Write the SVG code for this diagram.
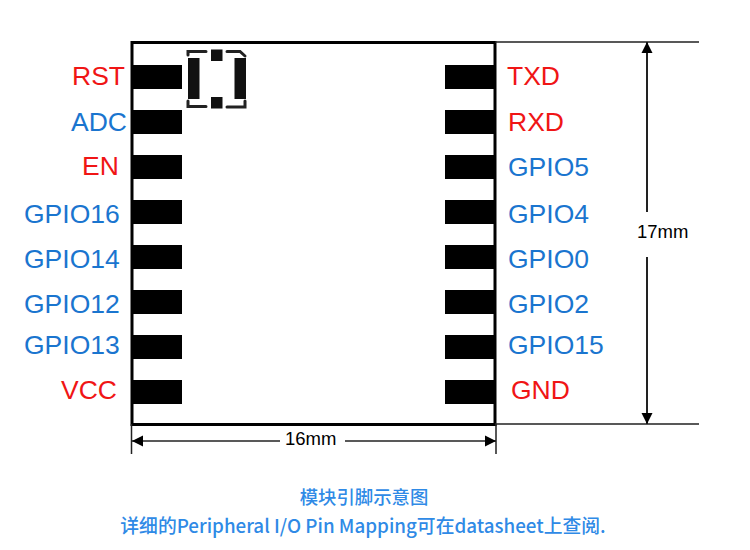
<svg xmlns="http://www.w3.org/2000/svg" width="750" height="550" viewBox="0 0 750 550">
<style>
text{font-family:"Liberation Sans",Arial,sans-serif;font-size:26.500px}
.r{fill:#f01515}.b{fill:#1a75cf}
.k{fill:#000;font-size:18.500px}
.p{fill:#000;stroke:none}
.l{stroke:#222;fill:none}
.c{font-family:"Noto Sans CJK SC","Noto Sans",sans-serif;fill:#2f8ae6;font-size:18.400px;text-anchor:middle;font-weight:500}
.m{stroke:#222;stroke-width:3;fill:none;stroke-linecap:round}
</style>
<defs>
<marker id="a" markerUnits="userSpaceOnUse" markerWidth="12" markerHeight="12" refX="11" refY="6" orient="auto-start-reverse"><path d="M0 0.5L11 6L0 11.5Z" fill="#000"/></marker>
</defs>
<rect width="750" height="550" fill="#fff"/>
<g id="module">
<rect x="132" y="42.500" width="363" height="382" fill="#fff" stroke="#000" stroke-width="3"/>
<g class="p">
<rect x="132" y="65" width="50" height="24"/><rect x="132" y="110" width="50" height="24"/><rect x="132" y="155" width="50" height="24"/><rect x="132" y="200" width="50" height="24"/><rect x="132" y="245" width="50" height="24"/><rect x="132" y="290" width="50" height="24"/><rect x="132" y="335" width="50" height="24"/><rect x="132" y="380" width="50" height="24"/>
<rect x="445" y="65" width="50" height="24"/><rect x="445" y="110" width="50" height="24"/><rect x="445" y="155" width="50" height="24"/><rect x="445" y="200" width="50" height="24"/><rect x="445" y="245" width="50" height="24"/><rect x="445" y="290" width="50" height="24"/><rect x="445" y="335" width="50" height="24"/><rect x="445" y="380" width="50" height="24"/>
</g>
</g>
<g id="antenna">
<rect x="188" y="58" width="11.500" height="41" fill="#111"/><rect x="234.500" y="58" width="11.500" height="41" fill="#111"/>
<rect x="211" y="49.500" width="11.500" height="11.500" fill="#111"/><rect x="211" y="97" width="11.500" height="11.500" fill="#111"/>
<path class="m" d="M188 55V51.500H206M227 51.500H240L245 56M188 101V106.500H206M227 107H245V101"/>
</g>
<g id="labels-left">
<text class="r" x="72" y="85">RST</text>
<text class="b" x="71" y="131">ADC</text>
<text class="r" x="82" y="175">EN</text>
<text class="b" x="24" y="223">GPIO16</text>
<text class="b" x="24" y="268">GPIO14</text>
<text class="b" x="24" y="313">GPIO12</text>
<text class="b" x="24" y="354">GPIO13</text>
<text class="r" x="61" y="399">VCC</text>
</g>
<g id="labels-right">
<text class="r" x="507" y="85">TXD</text>
<text class="r" x="508" y="131">RXD</text>
<text class="b" x="508" y="176">GPIO5</text>
<text class="b" x="508" y="223">GPIO4</text>
<text class="b" x="508" y="268">GPIO0</text>
<text class="b" x="508" y="313">GPIO2</text>
<text class="b" x="508" y="354">GPIO15</text>
<text class="r" x="511" y="399">GND</text>
</g>
<g id="connectors">
<path class="l" stroke-width="1.500" d="M495 42H699M495 424H699M131.500 424V454M496 424V454"/>
<path class="l" stroke-width="1.500" marker-start="url(#a)" d="M132 441H280"/>
<path class="l" stroke-width="1.500" marker-end="url(#a)" d="M345 441H496"/>
<path class="l" stroke-width="2" marker-start="url(#a)" d="M647 42V212"/>
<path class="l" stroke-width="2" marker-end="url(#a)" d="M647 257V424"/>
</g>
<g id="dimensions">
<text class="k" x="285" y="445">16mm</text>
<text class="k" x="637" y="238">17mm</text>
</g>
<g id="caption">
<text class="c" x="364" y="504">模块引脚示意图</text>
<text class="c" x="363" y="533" style="font-size:18.800px">详细的Peripheral I/O Pin Mapping可在datasheet上查阅.</text>
</g>
</svg>
